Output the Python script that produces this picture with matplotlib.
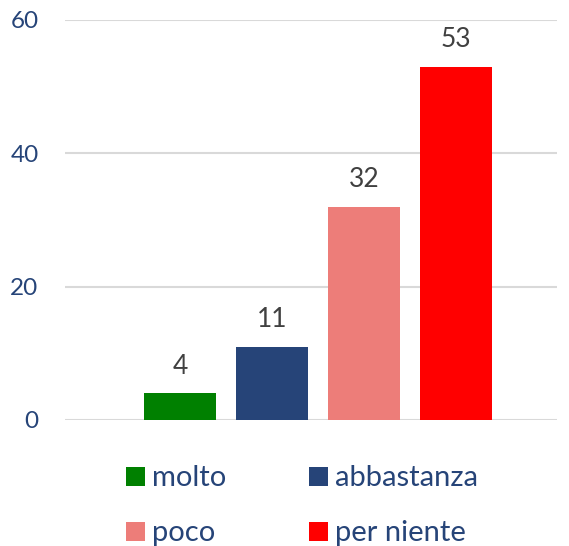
import matplotlib
matplotlib.use("Agg")
import matplotlib.pyplot as plt
from matplotlib.patches import Rectangle

categories = ["molto", "abbastanza", "poco", "per niente"]
values = [4, 11, 32, 53]
colors = ["#008000", "#264478", "#ED7D79", "#FF0000"]
yticks = [0, 20, 40, 60]

text_color = "#264478"
label_color = "#404040"
plt.rcParams['font.family'] = ['Lato', 'DejaVu Sans']

W, H = 569, 546
fig = plt.figure(figsize=(W / 100, H / 100), dpi=100)
ax = fig.add_axes([65 / W, 1 - 420 / H, (557 - 65) / W, 400 / H])

x = list(range(len(categories)))
bars = ax.bar(x, values, width=0.79, color=colors, zorder=3)
for xi, v in zip(x, values):
    ax.annotate(str(v), (xi, v), xytext=(0, 14), textcoords="offset points",
                ha="center", va="baseline", fontsize=19, color=label_color)

ax.set_xlim(-1.25, 4.1)
ax.set_ylim(0, 60)
ax.set_yticks(yticks)
ax.set_xticks([])
ax.yaxis.grid(True, color="#d9d9d9", linewidth=1.5, zorder=0)
ax.tick_params(axis="y", length=0, pad=19, labelsize=17.5, labelcolor=text_color)
for s in ax.spines.values():
    s.set_visible(False)

# legend, 2 rows x 2 columns (row-major), drawn in figure pixel coords
col_x = [126, 309]
row_y = [467, 522]   # top of square
sq = 19
for i, (lab, c) in enumerate(zip(categories, colors)):
    r, k = divmod(i, 2)
    x0, y0 = col_x[k], row_y[r]
    fig.patches.append(Rectangle((x0 / W, 1 - (y0 + sq) / H), sq / W, sq / H,
                                 transform=fig.transFigure, facecolor=c,
                                 edgecolor="none"))
    fig.text((x0 + sq + 7) / W, 1 - (y0 + sq) / H, lab, ha="left",
             va="baseline", fontsize=21, color=text_color)

fig.savefig("out.png", dpi=100)
